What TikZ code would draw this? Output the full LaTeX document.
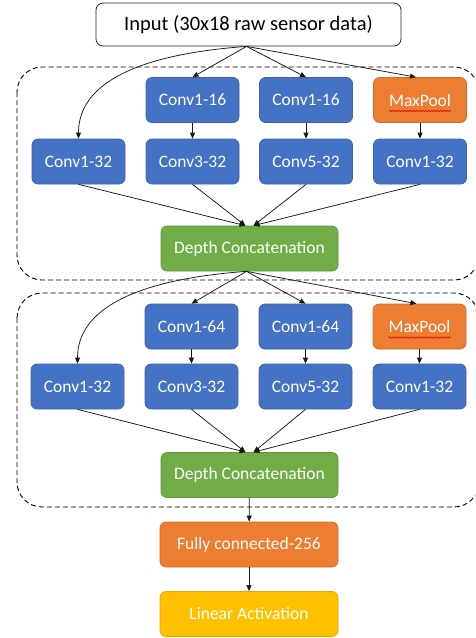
\documentclass[tikz,border=0pt]{standalone}
\usepackage{fontspec}
\setmainfont{Carlito}
\usetikzlibrary{arrows.meta,decorations.pathmorphing}
\definecolor{cblue}{HTML}{4472C4}
\definecolor{cblueb}{HTML}{3A63AD}
\definecolor{corange}{HTML}{ED7D31}
\definecolor{corangeb}{HTML}{D46A24}
\definecolor{cgreen}{HTML}{70AD47}
\definecolor{cgreenb}{HTML}{62993D}
\definecolor{cyellow}{HTML}{FFC000}
\definecolor{cyellowb}{HTML}{E0A800}
\tikzset{
  lay/.style={rounded corners=6pt, line width=0.7pt, text=white, inner sep=0pt,
    font=\fontsize{17.5}{20}\selectfont, minimum width=93pt, minimum height=45pt},
  bluebox/.style={lay, fill=cblue, draw=cblueb},
  orangebox/.style={lay, fill=corange, draw=corangeb},
  greenbox/.style={lay, fill=cgreen, draw=cgreenb, minimum width=177pt},
  yellowbox/.style={lay, fill=cyellow, draw=cyellowb, minimum width=178pt},
  inbox/.style={rounded corners=7pt, draw=black!85, line width=0.8pt, fill=white,
    font=\fontsize{20.5}{24}\selectfont, minimum width=305pt, minimum height=43pt, inner sep=0pt},
  arr/.style={-{Triangle[length=6pt,width=5pt]}, line width=0.75pt, draw=black!90},
  group/.style={dashed, dash pattern=on 5pt off 3pt, line width=0.9pt, rounded corners=25pt, draw=black},
  squig/.style={draw=red!85!black, line width=0.6pt, decorate,
    decoration={snake, amplitude=0.8pt, segment length=3pt}}
}
\begin{document}
\begin{tikzpicture}[x=1pt, y=-1pt]
\clip (0,0) rectangle (475,638);
\fill[white] (0,0) rectangle (475,638);

% group frames
\draw[group] (17,67) rectangle (479,280);
\draw[group] (17,293) rectangle (479,507);

% input
\node[inbox] (in) at (248.5,24.5) {Input (30x18 raw sensor data)};

% block 1
\node[bluebox] (a1) at (192.5,100) {Conv1-16};
\node[bluebox] (a2) at (306,100) {Conv1-16};
\node[orangebox] (a3) at (420,100) {MaxPool};
\node[bluebox] (b0) at (78.5,161.5) {Conv1-32};
\node[bluebox] (b1) at (192.5,161.5) {Conv3-32};
\node[bluebox] (b2) at (306,161.5) {Conv5-32};
\node[bluebox] (b3) at (420,161.5) {Conv1-32};
\node[greenbox] (c1) at (249.5,248.5) {Depth Concatenation};

% block 2
\node[bluebox] (d1) at (191.5,326.5) {Conv1-64};
\node[bluebox] (d2) at (305.5,326.5) {Conv1-64};
\node[orangebox] (d3) at (419.5,326.5) {MaxPool};
\node[bluebox] (e0) at (77.5,386.5) {Conv1-32};
\node[bluebox] (e1) at (191.5,386.5) {Conv3-32};
\node[bluebox] (e2) at (305.5,386.5) {Conv5-32};
\node[bluebox] (e3) at (419.5,386.5) {Conv1-32};
\node[greenbox] (c2) at (249.5,475) {Depth Concatenation};

% head
\node[orangebox, minimum width=178pt] (fc) at (249,544.5) {Fully connected-256};
\node[yellowbox] (lin) at (249,614) {Linear Activation};

% spell-check squiggles
\draw[squig] ([xshift=-31pt,yshift=-11pt]a3.center) -- ([xshift=31pt,yshift=-11pt]a3.center);
\draw[squig] ([xshift=-31pt,yshift=-11pt]d3.center) -- ([xshift=31pt,yshift=-11pt]d3.center);

% block 1 connectors
\draw[arr] ([xshift=-2pt]in.south) .. controls +(-110,8) and +(0,-55) .. (b0.north);
\draw[arr] ([xshift=-2pt]in.south) -- (a1.north);
\draw[arr] ([xshift=-2pt]in.south) -- (a2.north);
\draw[arr] ([xshift=-2pt]in.south) -- ([xshift=-4pt]a3.north);
\draw[arr] (a1) -- (b1);
\draw[arr] (a2) -- (b2);
\draw[arr] (a3) -- (b3);
\draw[arr] (b0.south) -- ([xshift=-4pt]c1.north);
\draw[arr] (b1.south) -- ([xshift=-4pt]c1.north);
\draw[arr] (b2.south) -- ([xshift=4pt]c1.north);
\draw[arr] (b3.south) -- ([xshift=4pt]c1.north);

% block 2 connectors
\draw[arr] ([xshift=-3pt]c1.south) .. controls +(-110,8) and +(0,-55) .. (e0.north);
\draw[arr] ([xshift=-3pt]c1.south) -- (d1.north);
\draw[arr] ([xshift=-3pt]c1.south) -- (d2.north);
\draw[arr] ([xshift=-3pt]c1.south) -- ([xshift=-3pt]d3.north);
\draw[arr] (d1) -- (e1);
\draw[arr] (d2) -- (e2);
\draw[arr] (d3) -- (e3);
\draw[arr] (e0.south) -- ([xshift=-4pt]c2.north);
\draw[arr] (e1.south) -- ([xshift=-4pt]c2.north);
\draw[arr] (e2.south) -- ([xshift=4pt]c2.north);
\draw[arr] (e3.south) -- ([xshift=4pt]c2.north);

% head connectors
\draw[arr] (c2) -- (fc);
\draw[arr] (fc) -- (lin);
\end{tikzpicture}
\end{document}
